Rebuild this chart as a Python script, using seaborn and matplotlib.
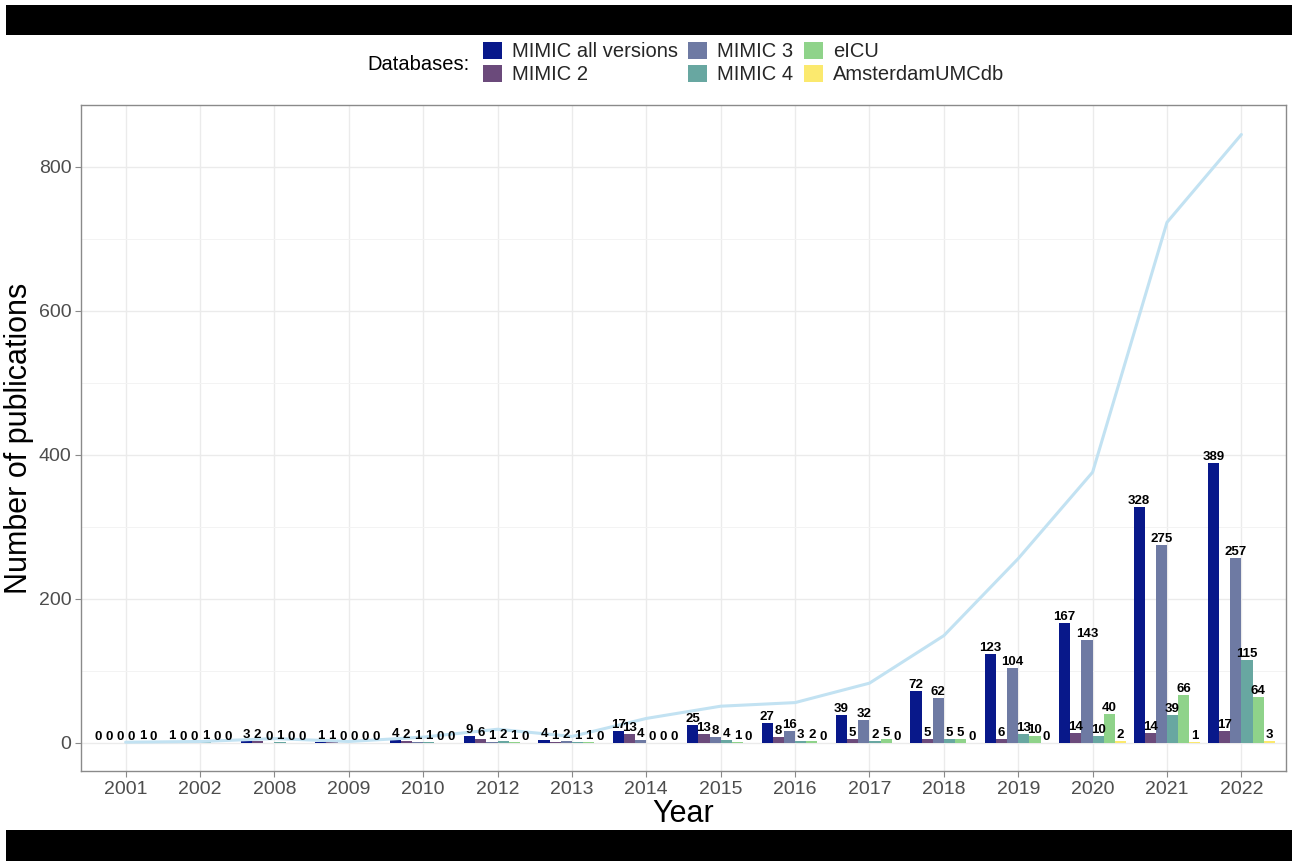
import numpy as np
import pandas as pd
import matplotlib
matplotlib.use("Agg")
import matplotlib.pyplot as plt
from matplotlib.patches import Patch, Rectangle
from matplotlib.ticker import MultipleLocator
import seaborn as sns

years = ["2001", "2002", "2008", "2009", "2010", "2012", "2013", "2014",
         "2015", "2016", "2017", "2018", "2019", "2020", "2021", "2022"]
databases = ["MIMIC all versions", "MIMIC 2", "MIMIC 3", "MIMIC 4", "eICU", "AmsterdamUMCdb"]
mimic_all = [0, 1, 3, 1, 4, 9, 4, 17, 25, 27, 39, 72, 123, 167, 328, 389]
mimic_2   = [0, 0, 2, 1, 2, 6, 1, 13, 13, 8, 5, 5, 6, 14, 14, 17]
mimic_3   = [0, 0, 0, 0, 1, 1, 2, 4, 8, 16, 32, 62, 104, 143, 275, 257]
mimic_4   = [0, 1, 1, 0, 1, 2, 1, 0, 4, 3, 2, 5, 13, 10, 39, 115]
eicu      = [1, 0, 0, 0, 0, 1, 1, 0, 1, 2, 5, 5, 10, 40, 66, 64]
amsterdam = [0, 0, 0, 0, 0, 0, 0, 0, 0, 0, 0, 0, 0, 2, 1, 3]
colors = ["#08188A", "#6B4A7B", "#6E7AA3", "#68A7A1", "#8FD38A", "#FBE96E"]
line_color = "#C2E2F2"

series = [mimic_all, mimic_2, mimic_3, mimic_4, eicu, amsterdam]
rows = []
for db, vals in zip(databases, series):
    for y, v in zip(years, vals):
        rows.append({"Year": y, "Database": db, "count": v})
df = pd.DataFrame(rows)
totals = np.array(series).sum(axis=0)

sns.set_style("white")
plt.rcParams["font.family"] = ["Liberation Sans", "DejaVu Sans"]

W, H = 1292, 861
fig = plt.figure(figsize=(W / 100, H / 100), dpi=100)
ax = fig.add_axes([81 / W, (H - 771) / H, (1286 - 81) / W, (771 - 105) / H])

sns.barplot(data=df, x="Year", y="count", hue="Database", order=years,
            hue_order=databases, palette=colors, saturation=1, width=0.9,
            linewidth=0, legend=False, ax=ax, zorder=2)

for cont in ax.containers:
    ax.bar_label(cont, fmt="%d", fontsize=9.5, fontweight="bold",
                 color="black", padding=0, zorder=4)

sns.lineplot(x=np.arange(len(years)), y=totals, color=line_color,
             linewidth=2.2, ax=ax, zorder=3)

ax.set_xlim(-0.6, len(years) - 0.4)
ax.set_ylim(-39, 886)
ax.yaxis.set_major_locator(MultipleLocator(200))
ax.yaxis.set_minor_locator(MultipleLocator(100))
ax.grid(True, which="major", color="#EBEBEB", linewidth=1.0, zorder=0)
ax.grid(True, which="minor", color="#F3F3F3", linewidth=0.7, zorder=0)
ax.set_axisbelow(True)
for s in ax.spines.values():
    s.set_color("#8A8A8A")
    s.set_linewidth(1.0)
ax.tick_params(axis="both", which="major", colors="#8A8A8A", length=4,
               width=0.8, labelsize=14, labelcolor="#4D4D4D", pad=3,
               bottom=True, left=True)
ax.tick_params(axis="y", which="minor", length=0)
ax.set_xlabel("Year", fontsize=22, color="black", labelpad=1)
ax.set_ylabel("Number of publications", fontsize=22, color="black", labelpad=3)

handles = [Patch(facecolor=c, edgecolor="none") for c in colors]
fig.legend(handles=handles, labels=databases, ncol=3, frameon=False,
           loc="center left", bbox_to_anchor=(483 / W, 1 - 63 / H),
           fontsize=14.5, handlelength=0.95, handleheight=0.95,
           handletextpad=0.5, columnspacing=0.5, labelspacing=0.18,
           borderpad=0, borderaxespad=0)
fig.text(470 / W, 1 - 64 / H, "Databases:", ha="right", va="center",
         fontsize=14.5, color="black")

fig.patches.append(Rectangle((6 / W, 1 - 35 / H), 1 - 6 / W, 30 / H,
                             transform=fig.transFigure, facecolor="black",
                             edgecolor="none", zorder=10))
fig.patches.append(Rectangle((6 / W, 0), 1 - 6 / W, 31 / H,
                             transform=fig.transFigure, facecolor="black",
                             edgecolor="none", zorder=10))

fig.savefig("out.png", dpi=100)
